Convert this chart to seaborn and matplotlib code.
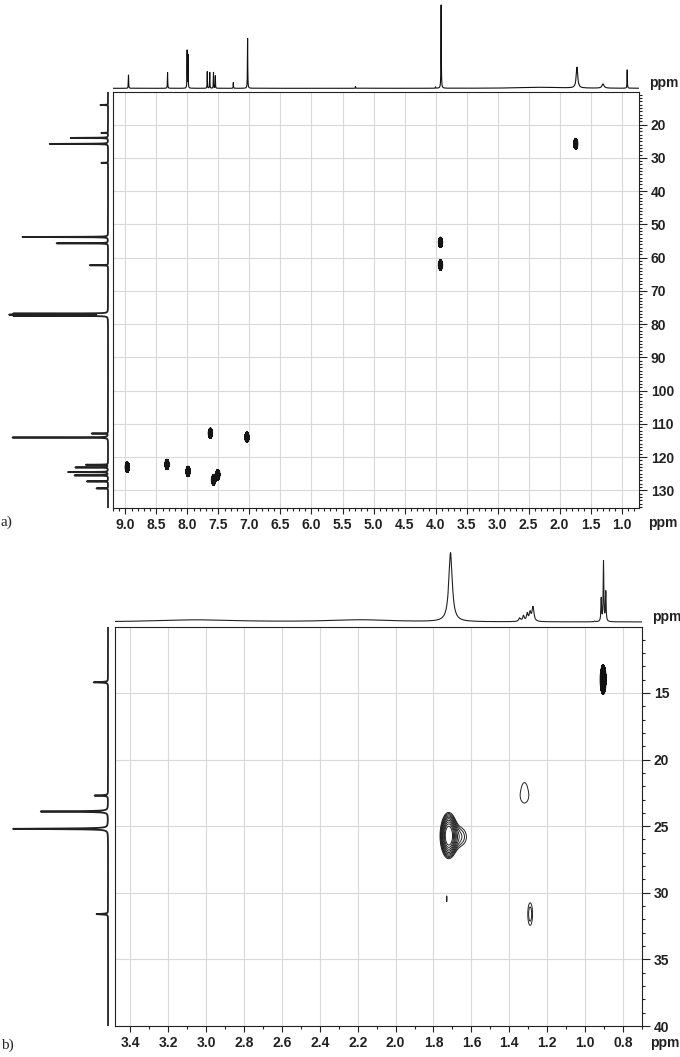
import numpy as np
import matplotlib
matplotlib.use("Agg")
import matplotlib.pyplot as plt
from matplotlib.ticker import MultipleLocator, FormatStrFormatter
import seaborn as sns

# ---------------- panel a) ----------------
# 1H trace on top: shift (ppm), relative height, line width (ppm)
h1_a_ppm = [8.95, 8.32, 8.005, 7.99, 7.68, 7.64, 7.58, 7.55, 7.26, 7.03,
            5.29, 4.00, 3.91, 2.30, 1.72, 1.30, 0.91]
h1_a_int = [0.16, 0.19, 0.45, 0.40, 0.20, 0.19, 0.19, 0.15, 0.07, 0.60,
            0.02, 0.016, 1.00, 0.012, 0.25, 0.05, 0.22]
h1_a_fwhm = [0.006, 0.006, 0.005, 0.005, 0.005, 0.005, 0.005, 0.005, 0.005, 0.006,
             0.006, 0.005, 0.006, 0.8, 0.03, 0.04, 0.006]

# 13C trace on the left
c13_a_ppm = [14.1, 22.5, 24.0, 25.8, 31.5, 53.8, 55.7, 62.3, 76.84, 77.16, 77.48,
             112.9, 114.1, 122.3, 123.1, 124.5, 125.5, 127.3, 129.4]
c13_a_int = [0.08, 0.07, 0.39, 0.61, 0.07, 0.89, 0.54, 0.19, 0.97, 1.00, 0.97,
             0.17, 1.00, 0.23, 0.34, 0.42, 0.35, 0.22, 0.12]

# HSQC cross peaks (1H ppm, 13C ppm)
xp_a_h = [8.97, 8.33, 7.99, 7.63, 7.58, 7.51, 7.04, 3.92, 3.92, 1.74]
xp_a_c = [123.0, 122.2, 124.3, 112.8, 126.9, 125.3, 114.0, 55.4, 62.2, 25.8]

# ---------------- panel b) ----------------
h1_b_ppm = [3.05, 2.18, 1.71, 1.345, 1.325, 1.305, 1.29, 1.275, 0.95, 0.915, 0.903, 0.891]
h1_b_int = [0.03, 0.03, 1.00, 0.05, 0.08, 0.11, 0.12, 0.21, 0.01, 0.33, 0.87, 0.43]
h1_b_fwhm = [0.50, 0.40, 0.022, 0.012, 0.010, 0.010, 0.010, 0.012, 0.005, 0.004, 0.004, 0.004]

c13_b_ppm = [14.2, 22.7, 23.9, 25.2, 31.6]
c13_b_int = [0.15, 0.14, 0.70, 0.99, 0.12]

# contour peaks: 1H, 13C, spread 1H, spread 13C, amplitude
xp_b_h = [1.72, 1.675, 1.32, 1.32, 1.29, 1.73]
xp_b_c = [25.7, 25.8, 22.7, 21.9, 31.6, 30.45]
xp_b_sh = [0.02, 0.045, 0.04, 0.012, 0.0145, 0.006]
xp_b_sc = [0.8, 0.7, 1.0, 0.35, 0.98, 0.8]
xp_b_amp = [10.0, 1.8, 1.17, 0.3, 1.45, 1.04]
# strong (filled) peak
xp_b_fill = (0.905, 14.0)


def lorentz(axis, centers, heights, widths):
    out = np.zeros_like(axis)
    for c, h, w in zip(centers, heights, widths):
        g = (w / 2) ** 2
        out += h * g / ((axis - c) ** 2 + g)
    return out


def gauss2d(X, Y, hs, cs, shs, scs, amps):
    Z = np.zeros_like(X)
    for h, c, sh, sc, a in zip(hs, cs, shs, scs, amps):
        Z += a * np.exp(-0.5 * (((X - h) / sh) ** 2 + ((Y - c) / sc) ** 2))
    return Z


sns.set_style("white")
plt.rcParams["font.family"] = ["Liberation Sans", "DejaVu Sans"]
plt.rcParams["axes.linewidth"] = 0.8

W, H = 680, 1057
fig = plt.figure(figsize=(W / 100, H / 100), dpi=100)


def rect(x0, y0, x1, y1):
    return [x0 / W, 1 - y1 / H, (x1 - x0) / W, (y1 - y0) / H]


tick_font = dict(fontsize=10, fontweight="bold", color="#222222")


def style_2d(ax, xmaj, xmin, ymaj, ymin):
    ax.yaxis.tick_right()
    ax.xaxis.set_major_locator(MultipleLocator(xmaj))
    ax.xaxis.set_minor_locator(MultipleLocator(xmin))
    ax.yaxis.set_major_locator(MultipleLocator(ymaj))
    ax.yaxis.set_minor_locator(MultipleLocator(ymin))
    ax.xaxis.set_major_formatter(FormatStrFormatter("%.1f"))
    ax.tick_params(axis="both", which="both", direction="out", top=False,
                   left=False, right=True, bottom=True, width=0.8, colors="#222222")
    ax.tick_params(axis="x", which="major", length=4.5, pad=3)
    ax.tick_params(axis="y", which="major", length=5.5, pad=3)
    ax.tick_params(which="minor", length=2.5)
    for lab in ax.get_xticklabels() + ax.get_yticklabels():
        lab.set_fontsize(10)
        lab.set_fontweight("bold")
    ax.grid(True, which="major", color="#d9d9d9", lw=0.8)
    ax.set_axisbelow(True)
    for s in ax.spines.values():
        s.set_color("#222222")
        s.set_linewidth(0.8)
    ax.set_xlabel("")
    ax.set_ylabel("")


# ======== panel a ========
XA = (9.20, 0.72)
YA = (135.3, 10.2)
ax_a = fig.add_axes(rect(113, 92, 639, 508))
gx = np.linspace(XA[1], XA[0], 1800)
gy = np.linspace(YA[1], YA[0], 800)
X, Y = np.meshgrid(gx, gy)
Za = gauss2d(X, Y, xp_a_h, xp_a_c, [0.025] * len(xp_a_h), [1.1] * len(xp_a_h),
             [1.0] * len(xp_a_h))
ax_a.contourf(X, Y, Za, levels=[0.35, 100], colors=["#151515"])
ax_a.contour(X, Y, Za, levels=[0.35], colors=["#151515"], linewidths=0.6)
style_2d(ax_a, 0.5, 0.1, 10, 1)
ax_a.set_xlim(*XA)
ax_a.set_ylim(*YA)

ax_ha = fig.add_axes(rect(113, 2, 639, 91))
hx = np.linspace(XA[1], XA[0], 24000)
sns.lineplot(x=hx, y=lorentz(hx, h1_a_ppm, h1_a_int, h1_a_fwhm), ax=ax_ha,
             color="#111111", linewidth=0.8, estimator=None, sort=False)
ax_ha.set_xlim(*XA)
ax_ha.set_ylim(-0.0324, 1.036)
ax_ha.axis("off")

ax_ca = fig.add_axes(rect(0, 92, 111, 508))
cy = np.linspace(YA[1], YA[0], 14000)
sns.lineplot(x=lorentz(cy, c13_a_ppm, c13_a_int, [0.08] * len(c13_a_ppm)), y=cy,
             ax=ax_ca, orient="y", color="#222222", linewidth=1.3,
             estimator=None, sort=False)
ax_ca.set_xlim(1.125, -0.031)
ax_ca.set_ylim(*YA)
ax_ca.axis("off")

# ======== panel b ========
XB = (3.48, 0.70)
YB = (40, 10.05)
ax_b = fig.add_axes(rect(115, 627, 642, 1026))
gx = np.linspace(XB[1], XB[0], 2000)
gy = np.linspace(YB[1], YB[0], 900)
X, Y = np.meshgrid(gx, gy)
Zb = gauss2d(X, Y, xp_b_h, xp_b_c, xp_b_sh, xp_b_sc, xp_b_amp)
levels = [1.25 ** k for k in range(10)]
ax_b.contour(X, Y, Zb, levels=levels, colors=["#222222"], linewidths=0.7)
Zf = gauss2d(X, Y, [xp_b_fill[0]], [xp_b_fill[1]], [0.0105], [0.72], [1.0])
ax_b.contourf(X, Y, Zf, levels=[0.3, 100], colors=["#111111"])
ax_b.contour(X, Y, Zf, levels=[0.3], colors=["#111111"], linewidths=0.6)
style_2d(ax_b, 0.2, 0.1, 5, 1)
ax_b.set_xlim(*XB)
ax_b.set_ylim(*YB)

ax_hb = fig.add_axes(rect(115, 545, 642, 626))
hx = np.linspace(XB[1], XB[0], 12000)
sns.lineplot(x=hx, y=lorentz(hx, h1_b_ppm, h1_b_int, h1_b_fwhm), ax=ax_hb,
             color="#222222", linewidth=0.8, estimator=None, sort=False)
ax_hb.set_xlim(*XB)
ax_hb.set_ylim(-0.058, 1.116)
ax_hb.axis("off")

ax_cb = fig.add_axes(rect(0, 627, 111, 1026))
cy = np.linspace(YB[1], YB[0], 8000)
sns.lineplot(x=lorentz(cy, c13_b_ppm, c13_b_int, [0.05] * len(c13_b_ppm)), y=cy,
             ax=ax_cb, orient="y", color="#222222", linewidth=1.3,
             estimator=None, sort=False)
ax_cb.set_xlim(1.125, -0.031)
ax_cb.set_ylim(*YB)
ax_cb.axis("off")

# ---- text labels ----
for x, y in [(649, 83), (648, 523), (652, 617), (650, 1043)]:
    fig.text(x / W, 1 - y / H, "ppm", ha="left", va="center", **tick_font)
fig.text(0.001, 1 - 522 / H, "a)", ha="left", va="center",
         fontfamily="Liberation Serif", fontsize=11)
fig.text(0.001, 1 - 1045 / H, "b)", ha="left", va="center",
         fontfamily="Liberation Serif", fontsize=11)

fig.savefig("out.png", dpi=100)
